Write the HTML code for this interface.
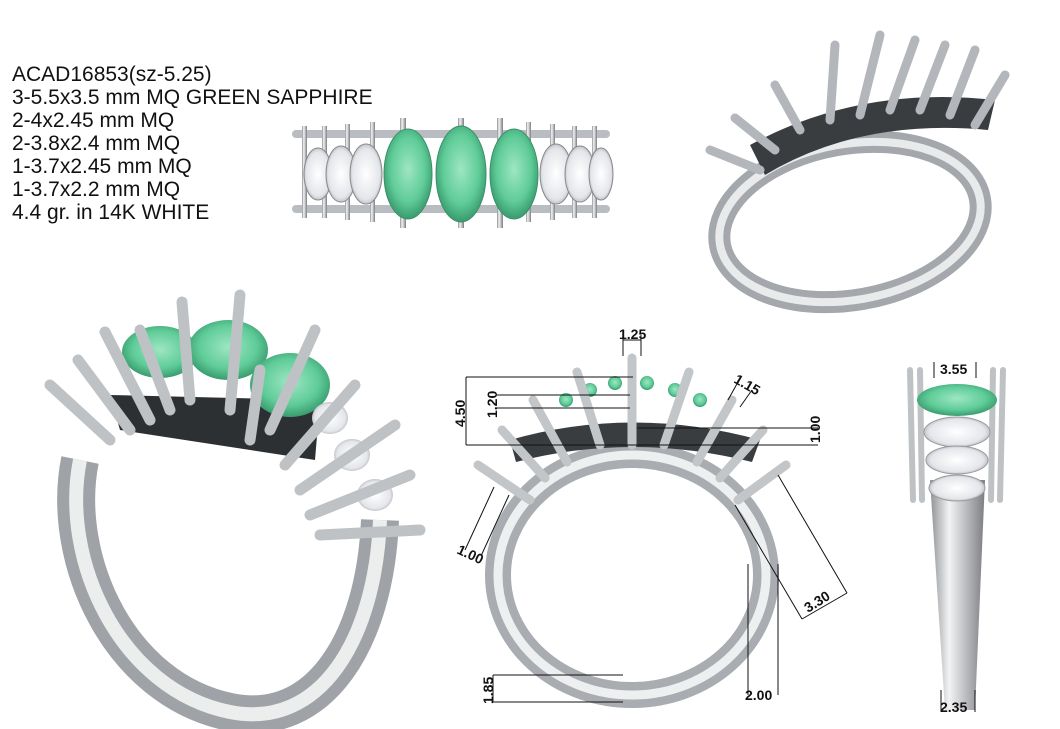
<!DOCTYPE html>
<html><head><meta charset="utf-8"><style>
html,body{margin:0;padding:0;background:#fff;}
svg{display:block}
.t{font-family:"Liberation Sans",sans-serif;font-size:21px;fill:#111}
.d{font-family:"Liberation Sans",sans-serif;font-size:14px;font-weight:bold;fill:#111}
.dl{stroke:#111;stroke-width:1;fill:none}
</style></head><body>
<svg width="1060" height="729" viewBox="0 0 1060 729" xmlns="http://www.w3.org/2000/svg">
<defs>
<linearGradient id="metal" x1="0" y1="0" x2="1" y2="0">
<stop offset="0" stop-color="#8e9094"/><stop offset="0.35" stop-color="#f2f3f4"/><stop offset="0.6" stop-color="#c4c6c9"/><stop offset="1" stop-color="#7b7d81"/></linearGradient>
<radialGradient id="green" cx="0.5" cy="0.45" r="0.6"><stop offset="0" stop-color="#9ee6c3"/><stop offset="0.6" stop-color="#5fcc98"/><stop offset="1" stop-color="#2f8e63"/></radialGradient>
<radialGradient id="dia" cx="0.5" cy="0.5" r="0.6"><stop offset="0" stop-color="#ffffff"/><stop offset="0.7" stop-color="#e4e6ea"/><stop offset="1" stop-color="#9a9ea6"/></radialGradient>
</defs>
<rect width="1060" height="729" fill="#fff"/>
<g class="t">
<text x="12" y="81">ACAD16853(sz-5.25)</text>
<text x="12" y="104">3-5.5x3.5 mm MQ GREEN SAPPHIRE</text>
<text x="12" y="127">2-4x2.45 mm MQ</text>
<text x="12" y="150">2-3.8x2.4 mm MQ</text>
<text x="12" y="173">1-3.7x2.45 mm MQ</text>
<text x="12" y="196">1-3.7x2.2 mm MQ</text>
<text x="12" y="219">4.4 gr. in 14K WHITE</text>
</g>
<!-- top view -->
<g>
<rect x="292" y="130" width="318" height="8" rx="4" fill="#b9bcc0"/>
<rect x="292" y="205" width="318" height="8" rx="4" fill="#b9bcc0"/>
<g fill="url(#metal)">
<rect x="302" y="126" width="5" height="92"/><rect x="322" y="126" width="5" height="92"/><rect x="345" y="124" width="5" height="96"/><rect x="370" y="122" width="5" height="100"/>
<rect x="592" y="126" width="5" height="92"/><rect x="572" y="126" width="5" height="92"/><rect x="550" y="124" width="5" height="96"/><rect x="526" y="122" width="5" height="100"/>
<rect x="400" y="118" width="6" height="110"/><rect x="458" y="118" width="6" height="110"/><rect x="497" y="118" width="6" height="110"/>
</g>
<ellipse cx="318" cy="174" rx="14" ry="26" fill="url(#dia)" stroke="#888"/>
<ellipse cx="341" cy="174" rx="15" ry="28" fill="url(#dia)" stroke="#888"/>
<ellipse cx="366" cy="174" rx="16" ry="30" fill="url(#dia)" stroke="#888"/>
<ellipse cx="556" cy="174" rx="16" ry="30" fill="url(#dia)" stroke="#888"/>
<ellipse cx="580" cy="174" rx="15" ry="28" fill="url(#dia)" stroke="#888"/>
<ellipse cx="601" cy="174" rx="12" ry="26" fill="url(#dia)" stroke="#888"/>
<ellipse cx="408" cy="174" rx="24" ry="45" fill="url(#green)" stroke="#3a8f68"/>
<ellipse cx="461" cy="174" rx="25" ry="48" fill="url(#green)" stroke="#3a8f68"/>
<ellipse cx="514" cy="174" rx="24" ry="45" fill="url(#green)" stroke="#3a8f68"/>
</g>
<!-- top right perspective ring -->
<g>
<g transform="rotate(-10 850 222)">
<ellipse cx="850" cy="222" rx="132" ry="78" fill="none" stroke="#a4a7ab" stroke-width="22"/>
<ellipse cx="850" cy="222" rx="132" ry="78" fill="none" stroke="#e9eaec" stroke-width="8"/>
</g>
<path d="M750,145 Q860,85 995,100 L988,130 Q860,118 765,175 Z" fill="#3a3d40"/>
<g stroke="#b3b6ba" stroke-width="9" stroke-linecap="round">
<line x1="760" y1="170" x2="710" y2="150"/><line x1="775" y1="150" x2="735" y2="118"/><line x1="800" y1="130" x2="775" y2="85"/>
<line x1="830" y1="120" x2="835" y2="45"/><line x1="860" y1="115" x2="880" y2="35"/><line x1="890" y1="110" x2="915" y2="40"/>
<line x1="920" y1="110" x2="945" y2="45"/><line x1="950" y1="115" x2="975" y2="50"/><line x1="975" y1="125" x2="1005" y2="75"/>
</g>
</g>
<!-- bottom left perspective ring -->
<g>
<path d="M80,460 C60,560 120,690 230,712 C320,730 375,640 380,520" fill="none" stroke="#9fa2a6" stroke-width="38"/>
<path d="M80,460 C60,560 120,690 230,712 C320,730 375,640 380,520" fill="none" stroke="#eceded" stroke-width="14"/>
<path d="M110,395 L320,400 L315,460 L120,430 Z" fill="#2d3033"/>
<ellipse cx="160" cy="352" rx="38" ry="26" fill="url(#green)"/>
<ellipse cx="228" cy="350" rx="40" ry="30" fill="url(#green)"/>
<ellipse cx="290" cy="385" rx="40" ry="32" fill="url(#green)"/>
<ellipse cx="330" cy="418" rx="18" ry="16" fill="url(#dia)"/>
<ellipse cx="352" cy="455" rx="18" ry="16" fill="url(#dia)"/>
<ellipse cx="375" cy="495" rx="18" ry="16" fill="url(#dia)"/>
<g stroke="#bfc2c5" stroke-width="11" stroke-linecap="round">
<line x1="50" y1="385" x2="110" y2="440"/><line x1="78" y1="360" x2="130" y2="430"/><line x1="105" y1="332" x2="150" y2="420"/>
<line x1="140" y1="330" x2="170" y2="410"/><line x1="182" y1="302" x2="190" y2="400"/><line x1="240" y1="295" x2="230" y2="410"/>
<line x1="315" y1="330" x2="270" y2="430"/><line x1="260" y1="370" x2="250" y2="440"/><line x1="355" y1="385" x2="285" y2="465"/>
<line x1="395" y1="425" x2="300" y2="490"/><line x1="410" y1="475" x2="310" y2="515"/><line x1="420" y1="530" x2="320" y2="535"/>
</g>
</g>
<!-- front view ring -->
<g>
<ellipse cx="632" cy="575" rx="134" ry="120" fill="none" stroke="#a9acb0" stroke-width="26"/>
<ellipse cx="632" cy="575" rx="134" ry="120" fill="none" stroke="#eeeff0" stroke-width="9"/>
<path d="M510,440 Q632,405 760,440 L752,462 Q632,432 516,462 Z" fill="#3a3d40"/>
<g fill="url(#green)"><circle cx="566" cy="400" r="7"/><circle cx="590" cy="390" r="7"/><circle cx="615" cy="383" r="7"/><circle cx="647" cy="383" r="7"/><circle cx="675" cy="390" r="7"/><circle cx="700" cy="400" r="7"/></g>
<g stroke="#c3c6c9" stroke-width="9" stroke-linecap="round">
<line x1="632" y1="358" x2="632" y2="445"/>
<line x1="577" y1="372" x2="600" y2="445"/><line x1="689" y1="372" x2="664" y2="445"/>
<line x1="533" y1="400" x2="567" y2="462"/><line x1="732" y1="400" x2="697" y2="462"/>
<line x1="502" y1="430" x2="545" y2="478"/><line x1="763" y1="430" x2="720" y2="478"/>
<line x1="478" y1="465" x2="530" y2="500"/><line x1="786" y1="465" x2="738" y2="500"/>
</g>
<g class="dl">
<line x1="466" y1="377" x2="633" y2="377"/><line x1="466" y1="445" x2="818" y2="445"/><line x1="466" y1="377" x2="466" y2="445"/>
<line x1="497" y1="395" x2="630" y2="395"/><line x1="497" y1="408" x2="630" y2="408"/>
<line x1="623" y1="335" x2="623" y2="356"/><line x1="641" y1="335" x2="641" y2="356"/><line x1="623" y1="340" x2="641" y2="340"/>
<line x1="637" y1="428" x2="818" y2="428"/>
<line x1="728" y1="400" x2="738" y2="382"/><line x1="740" y1="407" x2="752" y2="390"/>
<line x1="494" y1="487" x2="465" y2="550"/><line x1="509" y1="495" x2="481" y2="556"/>
<line x1="735" y1="505" x2="802" y2="619"/><line x1="778" y1="475" x2="847" y2="593"/><line x1="802" y1="619" x2="847" y2="593"/>
<line x1="748" y1="564" x2="748" y2="695"/><line x1="778" y1="564" x2="778" y2="695"/>
<line x1="493" y1="675" x2="623" y2="675"/><line x1="493" y1="702" x2="623" y2="702"/><line x1="493" y1="675" x2="493" y2="702"/>
</g>
<g class="d">
<text x="619" y="339">1.25</text>
<text transform="translate(465,427) rotate(-90)">4.50</text>
<text transform="translate(497,418) rotate(-90)">1.20</text>
<text transform="translate(733,382) rotate(30)">1.15</text>
<text transform="translate(820,443) rotate(-90)">1.00</text>
<text transform="translate(456,553) rotate(25)">1.00</text>
<text transform="translate(808,613) rotate(-32)">3.30</text>
<text x="745" y="700">2.00</text>
<text transform="translate(493,704) rotate(-90)">1.85</text>
</g>
</g>
<!-- side view -->
<g>
<path d="M930,480 L985,480 L975,710 L945,710 Z" fill="url(#metal)"/>
<g stroke="#bfc2c5" stroke-width="6" stroke-linecap="round">
<line x1="910" y1="370" x2="913" y2="500"/><line x1="920" y1="370" x2="922" y2="500"/><line x1="1003" y1="370" x2="1000" y2="500"/><line x1="993" y1="370" x2="991" y2="500"/>
</g>
<ellipse cx="957" cy="400" rx="40" ry="16" fill="url(#green)"/>
<ellipse cx="957" cy="432" rx="33" ry="15" fill="url(#dia)" stroke="#999"/>
<ellipse cx="957" cy="460" rx="31" ry="14" fill="url(#dia)" stroke="#999"/>
<ellipse cx="957" cy="488" rx="28" ry="13" fill="url(#dia)" stroke="#999"/>
<g class="dl"><line x1="934" y1="362" x2="934" y2="378"/><line x1="976" y1="362" x2="976" y2="378"/><line x1="941" y1="690" x2="941" y2="712"/><line x1="975" y1="690" x2="975" y2="712"/></g>
<g class="d"><text x="940" y="374">3.55</text><text x="940" y="712">2.35</text></g>
</g>
</svg>
</body></html>
